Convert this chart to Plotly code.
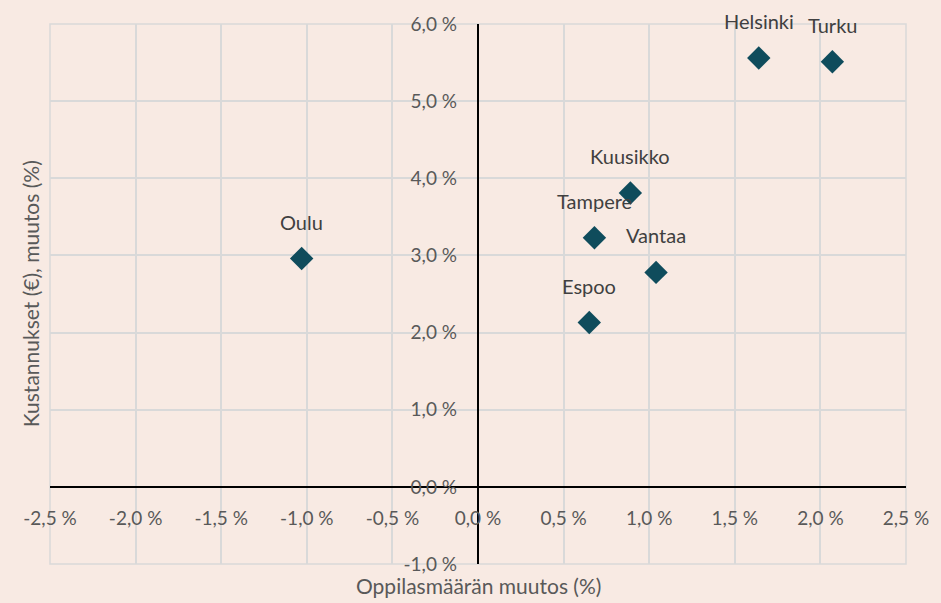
import plotly.graph_objects as go

cities = ["Oulu", "Helsinki", "Turku", "Kuusikko", "Tampere", "Vantaa", "Espoo"]
pupil_change = [-1.03, 1.64, 2.07, 0.89, 0.68, 1.04, 0.65]
cost_change = [2.96, 5.56, 5.51, 3.81, 3.23, 2.78, 2.13]

x_ticks = [-2.5, -2.0, -1.5, -1.0, -0.5, 0.0, 0.5, 1.0, 1.5, 2.0, 2.5]
x_ticktext = ["-2,5 %", "-2,0 %", "-1,5 %", "-1,0 %", "-0,5 %", "0,0 %",
              "0,5 %", "1,0 %", "1,5 %", "2,0 %", "2,5 %"]
y_ticks = [-1.0, 0.0, 1.0, 2.0, 3.0, 4.0, 5.0, 6.0]
y_ticktext = ["-1,0 %", "0,0 %", "1,0 %", "2,0 %", "3,0 %", "4,0 %", "5,0 %", "6,0 %"]

BG = "#F8EAE3"
GRID = "#D9D9D9"
TXT = "#595959"
FONT = "Lato"

fig = go.Figure()
fig.add_trace(go.Scatter(
    x=pupil_change, y=cost_change, mode="markers",
    marker=dict(symbol="diamond", size=18, color="#0F4C5C"),
    cliponaxis=False, hoverinfo="skip", showlegend=False,
))

for name, xv, yv in zip(cities, pupil_change, cost_change):
    fig.add_annotation(x=xv, y=yv, text=name, showarrow=False, yshift=37,
                       font=dict(family=FONT, size=20, color="#404040"))

fig.add_annotation(xref="paper", yref="paper", x=0.5, y=-0.039, yanchor="middle",
                   text="Oppilasmäärän muutos (%)", showarrow=False,
                   font=dict(family=FONT, size=21, color=TXT))
fig.add_annotation(xref="paper", yref="paper", x=-0.023, y=0.5, xanchor="center",
                   text="Kustannukset (€), muutos (%)", showarrow=False, textangle=-90,
                   font=dict(family=FONT, size=21, color=TXT))

fig.update_layout(
    width=941, height=603,
    paper_bgcolor=BG, plot_bgcolor=BG,
    margin=dict(l=50, r=34, t=22, b=39),
    font=dict(family=FONT, size=19, color=TXT),
    xaxis=dict(range=[-2.5, 2.5], tickmode="array", tickvals=x_ticks, ticktext=x_ticktext,
               showgrid=True, gridcolor=GRID, gridwidth=1.5,
               zeroline=True, zerolinecolor="black", zerolinewidth=2,
               anchor="free", position=1/7, showline=False,
               ticks="", ticklabelstandoff=18, fixedrange=True),
    yaxis=dict(range=[-1, 6], tickmode="array", tickvals=y_ticks, ticktext=y_ticktext,
               showgrid=True, gridcolor=GRID, gridwidth=1.5,
               zeroline=True, zerolinecolor="black", zerolinewidth=2,
               anchor="free", position=0.5, showline=False,
               ticks="", ticklabelstandoff=21, fixedrange=True),
)

fig.add_shape(type="rect", xref="paper", yref="paper", x0=0, y0=0, x1=1, y1=1,
              line=dict(color=GRID, width=1.5), layer="below")

fig.write_html("out.html", config={"displayModeBar": False},
               post_script="document.body.style.margin='0';document.body.style.overflow='hidden';")
